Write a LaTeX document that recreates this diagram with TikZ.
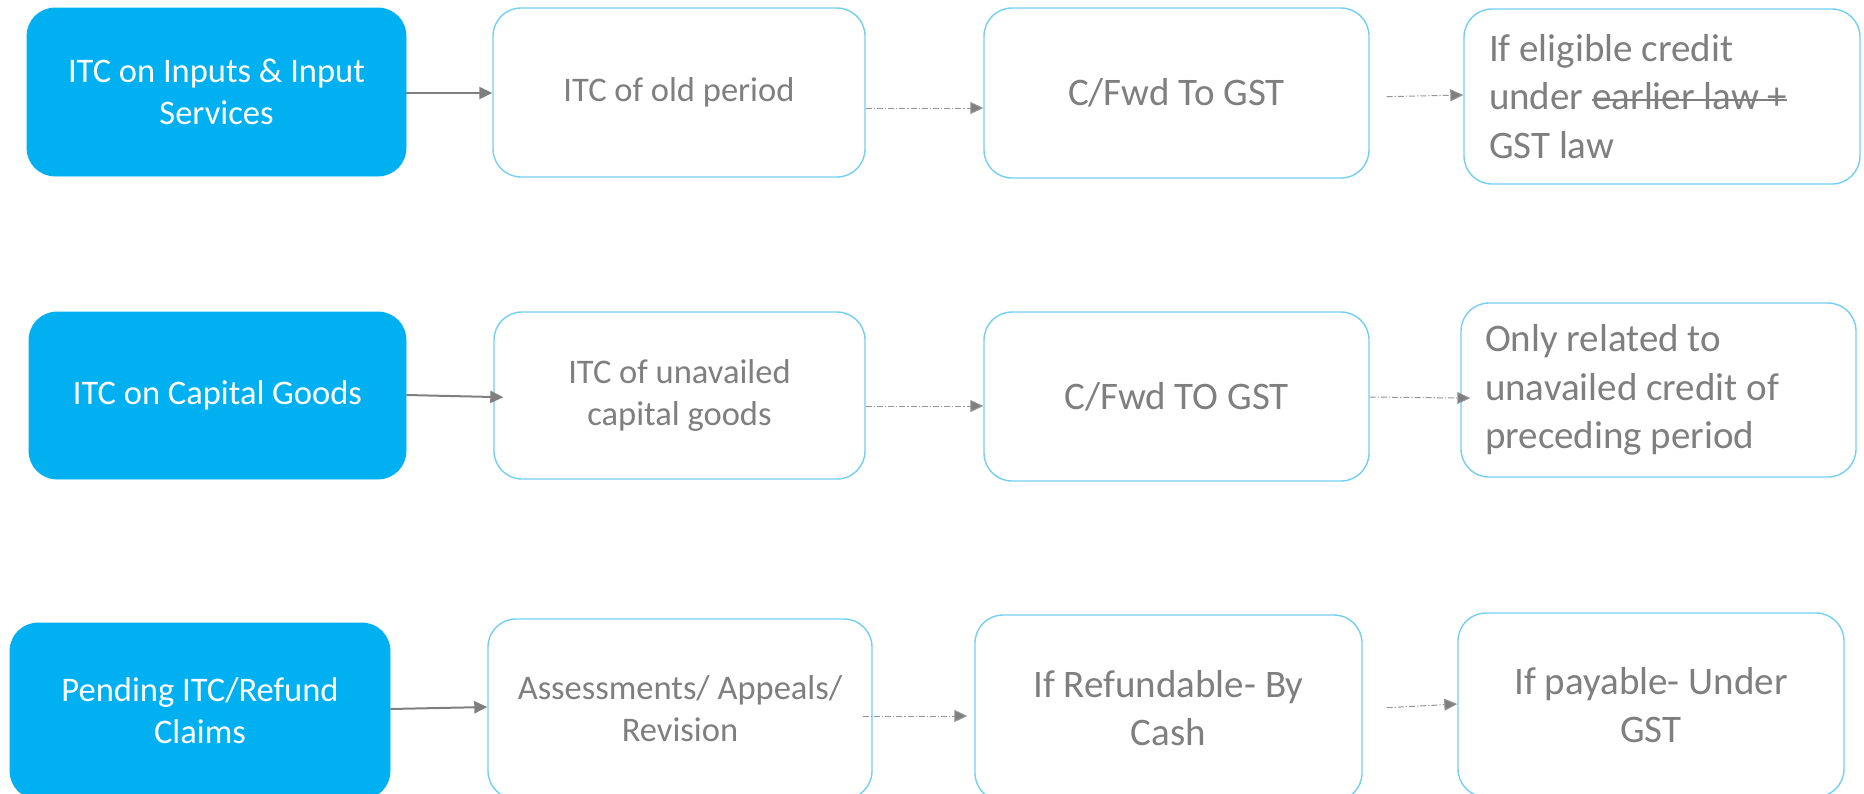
\documentclass[tikz,border=0pt]{standalone}
\usepackage{fontspec}
\setmainfont{Carlito}
\usetikzlibrary{arrows.meta}
\definecolor{bluefill}{HTML}{00B0F0}
\definecolor{bordr}{HTML}{75CFF2}
\definecolor{txtgray}{HTML}{7F7F7F}
\definecolor{arrgray}{HTML}{7F7F7F}
\definecolor{dashgray}{HTML}{959595}
\newcommand{\mystrike}[1]{\setbox0\hbox{#1}\rlap{\raisebox{0.23em}{\rule{\wd0}{1.2pt}}}\box0}
\newcommand{\mybox}[7]{\node[#6, minimum width={(#4-#2)*0.5pt}, minimum height={(#5-#3)*0.5pt}] (#1) at ({(#2+#4)/2},{(#3+#5)/2}) {#7};}
\begin{document}
\begin{tikzpicture}[x=0.5pt,y=-0.5pt,
  base/.style={rounded corners=14pt, inner sep=0pt, align=center},
  small/.style={font=\fontsize{17.25}{21}\selectfont},
  big/.style={font=\fontsize{19.5}{24.3}\selectfont},
  bluebox/.style={base, small, fill=bluefill, draw=bluefill, text=white},
  whitebox/.style={base, fill=white, draw=bordr, line width=0.7pt, text=txtgray},
  solidarr/.style={draw=arrgray, line width=1pt, -{Triangle[length=6.5pt,width=6pt]}},
  dasharr/.style={draw=dashgray, line width=0.5pt, dash pattern=on 3pt off 1pt on 0.6pt off 1pt,
     -{Triangle[length=6.5pt,width=6pt,fill=arrgray]}}]
\useasboundingbox (0,0) rectangle (1864,793);
% Row 1
\mybox{B1}{27}{8}{406}{176}{bluebox}{ITC on Inputs \& Input\\Services}
\mybox{B2}{493}{8}{865}{177}{whitebox, small}{ITC of old period}
\mybox{B3}{984}{8}{1369}{178}{whitebox, big}{C/Fwd To GST}
\mybox{B4}{1464}{9}{1860}{184}{whitebox, big, align=flush left, text width=173pt}{\spaceskip=0.226em\relax If eligible credit\\under \mystrike{earlier law +}\\GST law}
% Row 2
\mybox{C1}{29}{312}{406}{479}{bluebox}{ITC on Capital Goods}
\mybox{C2}{494}{312}{865}{479}{whitebox, small}{ITC of unavailed\\capital goods}
\mybox{C3}{984}{312}{1369}{481}{whitebox, big}{C/Fwd TO GST}
\mybox{C4}{1461}{303}{1856}{477}{whitebox, big, align=flush left, text width=173.5pt}{\spaceskip=0.226em\relax Only related to\\unavailed credit of\\preceding period}
% Row 3
\mybox{D1}{10}{623}{390}{799}{bluebox}{Pending ITC/Refund\\Claims}
\mybox{D2}{488}{619}{872}{799}{whitebox, small}{Assessments/ Appeals/\\Revision}
\mybox{D3}{975}{615}{1362}{801}{whitebox, big}{If Refundable- By\\Cash}
\mybox{D4}{1458}{613}{1844}{797}{whitebox, big}{If payable- Under\\GST}
% Connectors row 1
\draw[solidarr] (B1.east |- 0,93) -- (B2.west |- 0,93);
\draw[dasharr] (B2.east |- 0,108) -- (B3.west |- 0,108);
\draw[dasharr, shorten <=8.5pt] (B3.east |- 0,97) -- (B4.west |- 0,95);
% Connectors row 2
\draw[solidarr, shorten >=-5pt] (C1.east |- 0,395) -- (C2.west |- 0,397);
\draw[dasharr] (C2.east |- 0,406) -- (C3.west |- 0,406);
\draw[dasharr, shorten >=-5pt] (C3.east |- 0,397) -- (C4.west |- 0,398);
% Connectors row 3
\draw[solidarr] (D1.east |- 0,709) -- (D2.west |- 0,707);
\draw[dasharr, shorten <=-5pt, shorten >=3.5pt] (D2.east |- 0,716) -- (D3.west |- 0,716);
\draw[dasharr, shorten <=12pt] (D3.east |- 0,709) -- (D4.west |- 0,704);
\end{tikzpicture}
\end{document}
